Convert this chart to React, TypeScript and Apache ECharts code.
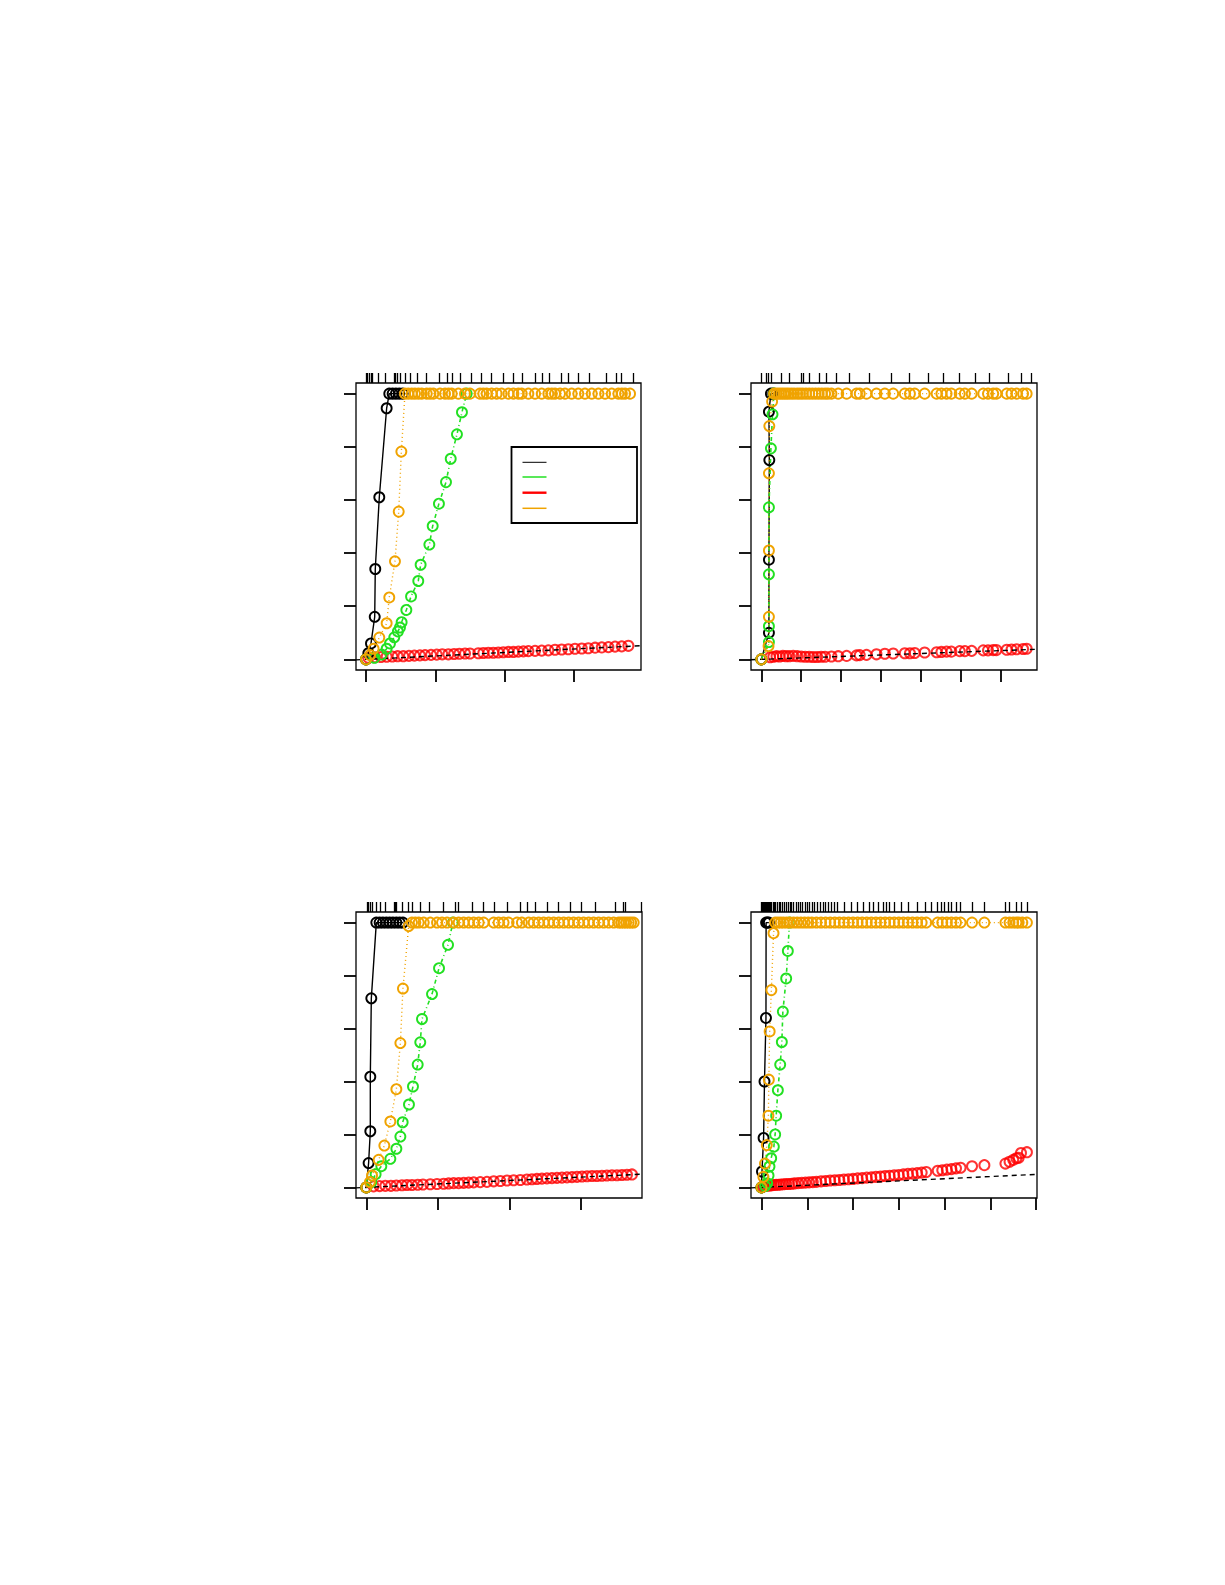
import { useEffect, useRef } from 'react';
import * as echarts from 'echarts';

const BLACK = '#000000';
const GREEN = '#22e022';
const RED = '#ff0000';
const ORANGE = '#f0a300';

const yTicks = [0, 0.2, 0.4, 0.6, 0.8, 1];
const p13XTicks = [0, 50, 100, 150];
const p24XTicks = [0, 1, 2, 3, 4, 5, 6];

// ---- panel 1 (top left)
const p1Rug = [0, 1.2, 2.4, 3.8, 4.6, 8.7, 14.2, 20.2, 21.4, 22.8, 24.5, 28.1, 32.2, 37.0, 43.5, 53.1, 58.9, 62.0, 68.3, 76.2, 82.9, 90.6, 99.3, 106.5, 113.0, 121.9, 127.4, 132.0, 140.9, 145.7, 152.7, 161.1, 173.6, 180.3, 184.4, 193.0];
const p1Black = [[0, 0], [1.7, 0.023], [3.6, 0.06], [6.3, 0.16], [6.7, 0.34], [9.6, 0.61], [14.9, 0.945], [16.8, 1], [19.2, 1], [21.6, 1], [24.0, 1], [26.4, 1]];
const p1Green = [[0, 0], [6.0, 0.006], [11.3, 0.018], [14.9, 0.04], [17.3, 0.06], [20.4, 0.083], [23.0, 0.105], [24.5, 0.12], [25.7, 0.14], [29.1, 0.186], [32.5, 0.237], [37.7, 0.295], [39.4, 0.356], [45.7, 0.432], [48.1, 0.502], [52.6, 0.586], [57.7, 0.667], [61.1, 0.755], [65.6, 0.847], [69.2, 0.93], [72.6, 1]];
const p1Red = [[0, 0], [1.7, 0.006], [6.5, 0.008], [10.8, 0.009], [14.9, 0.01], [19.0, 0.011], [22.8, 0.012], [26.9, 0.012], [31.0, 0.013], [34.9, 0.014], [38.9, 0.015], [42.6, 0.016], [46.9, 0.017], [51.0, 0.018], [55.0, 0.019], [59.4, 0.019], [63.5, 0.02], [67.3, 0.021], [71.4, 0.022], [75.0, 0.022], [81.0, 0.023], [84.6, 0.024], [88.2, 0.025], [91.8, 0.025], [95.4, 0.026], [99.0, 0.027], [102.7, 0.028], [106.3, 0.028], [109.9, 0.029], [113.5, 0.03], [117.1, 0.031], [121.9, 0.032], [126.7, 0.033], [131.5, 0.034], [136.3, 0.036], [141.1, 0.037], [145.9, 0.038], [150.7, 0.04], [155.6, 0.041], [160.3, 0.042], [165.2, 0.044], [170.0, 0.045], [174.8, 0.046], [179.6, 0.048], [184.4, 0.049], [189.2, 0.051]];
const p1Orange = [[0, 0], [2.9, 0.016], [5.5, 0.04], [9.6, 0.082], [14.9, 0.136], [16.8, 0.233], [20.9, 0.369], [23.6, 0.556], [25.5, 0.782], [28.1, 1], [30.5, 1], [33.0, 1], [35.3, 1], [37.8, 1], [40.2, 1], [43.8, 1], [46.2, 1], [48.6, 1], [53.4, 1], [57.0, 1], [59.5, 1], [61.8, 1], [66.6, 1], [71.4, 1], [75.0, 1], [82.2, 1], [84.6, 1], [87.0, 1], [90.6, 1], [94.2, 1], [97.8, 1], [102.7, 1], [106.3, 1], [109.9, 1], [112.3, 1], [117.1, 1], [121.9, 1], [126.7, 1], [131.5, 1], [134.0, 1], [136.3, 1], [139.9, 1], [143.5, 1], [148.3, 1], [153.1, 1], [157.9, 1], [162.8, 1], [167.6, 1], [172.4, 1], [177.2, 1], [182.0, 1], [184.5, 1], [186.8, 1], [190.4, 1]];
const p1RefSlope = 0.00026;

// ---- panel 2 (top right)
const p2Rug = [0, 0.12, 0.17, 0.25, 0.5, 0.71, 1.0, 1.05, 1.21, 1.45, 1.62, 1.88, 2.2, 2.7, 3.27, 3.71, 4.19, 4.56, 4.98, 5.38, 5.72, 6.2, 6.52, 6.77];
const p2Black = [[0, 0], [0.19, 0.1], [0.19, 0.375], [0.2, 0.75], [0.19, 0.932], [0.24, 1], [0.3, 1]];
const p2Green = [[0, 0], [0.19, 0.065], [0.19, 0.125], [0.19, 0.32], [0.19, 0.572], [0.24, 0.794], [0.28, 0.922], [0.32, 1]];
const p2Red = [[0, 0], [0.22, 0.008], [0.3, 0.01], [0.38, 0.012], [0.46, 0.011], [0.54, 0.013], [0.62, 0.012], [0.7, 0.012], [0.8, 0.013], [0.9, 0.012], [1.0, 0.011], [1.1, 0.01], [1.2, 0.01], [1.3, 0.009], [1.4, 0.009], [1.5, 0.01], [1.6, 0.01], [1.76, 0.011], [1.93, 0.012], [2.14, 0.013], [2.39, 0.015], [2.47, 0.016], [2.64, 0.017], [2.89, 0.019], [3.1, 0.021], [3.31, 0.022], [3.6, 0.023], [3.73, 0.023], [3.85, 0.024], [4.1, 0.026], [4.4, 0.027], [4.52, 0.028], [4.65, 0.029], [4.77, 0.029], [4.98, 0.031], [5.11, 0.031], [5.28, 0.032], [5.57, 0.034], [5.69, 0.034], [5.82, 0.035], [5.9, 0.035], [6.16, 0.036], [6.28, 0.037], [6.41, 0.038], [6.57, 0.039], [6.66, 0.04]];
const p2Orange = [[0, 0], [0.18, 0.05], [0.19, 0.16], [0.19, 0.41], [0.19, 0.7], [0.2, 0.878], [0.27, 0.97], [0.32, 1], [0.38, 1], [0.44, 1], [0.5, 1], [0.56, 1], [0.62, 1], [0.68, 1], [0.75, 1], [0.82, 1], [0.9, 1], [0.97, 1], [1.04, 1], [1.12, 1], [1.2, 1], [1.28, 1], [1.36, 1], [1.44, 1], [1.52, 1], [1.6, 1], [1.67, 1], [1.76, 1], [1.93, 1], [2.14, 1], [2.39, 1], [2.47, 1], [2.64, 1], [2.89, 1], [3.1, 1], [3.31, 1], [3.6, 1], [3.73, 1], [3.85, 1], [4.1, 1], [4.4, 1], [4.52, 1], [4.65, 1], [4.77, 1], [4.98, 1], [5.11, 1], [5.28, 1], [5.57, 1], [5.69, 1], [5.82, 1], [5.9, 1], [6.16, 1], [6.28, 1], [6.41, 1], [6.57, 1], [6.66, 1]];
const p2RefSlope = 0.0055;

// ---- panel 3 (bottom left)
const p3Rug = [0.5, 1.6, 2.8, 4.4, 7.0, 9.8, 13.3, 19.6, 20.3, 21.0, 24.9, 29.6, 31.9, 37.7, 44.2, 54.0, 62.2, 64.5, 73.8, 81.5, 89.4, 98.3, 107.6, 112.2, 118.1, 126.2, 134.4, 142.5, 150.0, 160.0, 173.9, 179.8, 180.9, 192.1];
const p3Black = [[0, 0], [1.6, 0.092], [2.8, 0.212], [2.8, 0.418], [3.5, 0.714], [7.0, 1], [9.3, 1], [11.6, 1], [14.0, 1], [16.3, 1], [18.6, 1], [21.0, 1], [23.3, 1], [25.6, 1]];
const p3Green = [[0, 0], [3.5, 0.02], [6.5, 0.05], [10.5, 0.08], [16.8, 0.108], [21.0, 0.146], [23.8, 0.192], [25.4, 0.246], [29.8, 0.313], [32.6, 0.381], [35.9, 0.464], [37.7, 0.548], [38.9, 0.636], [45.9, 0.73], [50.8, 0.828], [57.1, 0.916], [60.5, 1]];
const p3Red = [[0, 0], [5.1, 0.004], [9.3, 0.005], [13.3, 0.006], [17.2, 0.006], [21.0, 0.007], [24.9, 0.008], [28.4, 0.009], [31.9, 0.009], [35.9, 0.01], [39.6, 0.011], [44.7, 0.012], [49.4, 0.013], [54.0, 0.014], [57.5, 0.015], [61.0, 0.016], [64.5, 0.016], [68.0, 0.017], [71.5, 0.018], [75.0, 0.019], [79.6, 0.02], [84.3, 0.021], [89.0, 0.023], [93.6, 0.024], [98.3, 0.026], [102.9, 0.027], [107.6, 0.028], [112.2, 0.03], [115.7, 0.031], [119.2, 0.032], [122.7, 0.033], [126.2, 0.034], [129.7, 0.035], [133.2, 0.036], [136.7, 0.037], [140.2, 0.038], [143.7, 0.039], [147.2, 0.04], [150.7, 0.041], [154.2, 0.042], [157.7, 0.043], [161.1, 0.043], [164.6, 0.044], [168.1, 0.045], [171.6, 0.046], [175.1, 0.046], [178.6, 0.047], [182.1, 0.048], [185.6, 0.049]];
const p3Orange = [[0, 0], [2.5, 0.02], [4.0, 0.045], [8.6, 0.104], [12.6, 0.158], [16.8, 0.249], [21.0, 0.371], [23.8, 0.545], [25.6, 0.751], [29.6, 0.987], [31.9, 1], [34.2, 1], [36.6, 1], [40.1, 1], [44.7, 1], [49.4, 1], [52.9, 1], [56.4, 1], [61.0, 1], [64.5, 1], [68.0, 1], [71.5, 1], [75.0, 1], [78.5, 1], [82.0, 1], [89.0, 1], [92.4, 1], [95.9, 1], [99.4, 1], [105.3, 1], [108.7, 1], [113.4, 1], [116.9, 1], [120.4, 1], [123.9, 1], [127.4, 1], [130.9, 1], [134.4, 1], [137.9, 1], [141.3, 1], [144.8, 1], [148.3, 1], [151.8, 1], [155.3, 1], [158.8, 1], [162.3, 1], [165.8, 1], [169.3, 1], [172.8, 1], [176.3, 1], [178.0, 1], [179.8, 1], [181.5, 1], [183.3, 1], [185.0, 1], [186.8, 1]];
const p3RefSlope = 0.00026;

// ---- panel 4 (bottom right)
const p4Rug = [0, 0.02, 0.04, 0.06, 0.08, 0.1, 0.12, 0.14, 0.16, 0.19, 0.22, 0.25, 0.28, 0.31, 0.34, 0.38, 0.42, 0.46, 0.5, 0.54, 0.58, 0.62, 0.66, 0.7, 0.75, 0.8, 0.85, 0.9, 0.95, 1.0, 1.05, 1.1, 1.16, 1.22, 1.28, 1.34, 1.4, 1.46, 1.52, 1.6, 1.66, 1.8, 1.95, 2.1, 2.22, 2.35, 2.45, 2.55, 2.65, 2.72, 2.8, 2.9, 3.05, 3.2, 3.4, 3.58, 3.7, 3.85, 3.92, 4.0, 4.08, 4.15, 4.25, 4.35, 4.6, 4.87, 5.33, 5.42, 5.57, 5.68, 5.8];
const p4Black = [[0, 0], [0.01, 0.06], [0.045, 0.187], [0.065, 0.4], [0.097, 0.64], [0.1, 1], [0.13, 1], [0.16, 1]];
const p4Green = [[0, 0], [0.08, 0.005], [0.123, 0.016], [0.153, 0.045], [0.174, 0.079], [0.211, 0.11], [0.269, 0.154], [0.298, 0.2], [0.32, 0.271], [0.357, 0.367], [0.408, 0.464], [0.444, 0.549], [0.466, 0.664], [0.539, 0.789], [0.575, 0.893], [0.612, 1]];
const p4Red = [[0, 0], [0.03, 0.004], [0.06, 0.005], [0.1, 0.006], [0.14, 0.007], [0.18, 0.007], [0.22, 0.008], [0.27, 0.009], [0.32, 0.01], [0.37, 0.01], [0.42, 0.011], [0.48, 0.012], [0.54, 0.013], [0.6, 0.013], [0.66, 0.014], [0.72, 0.015], [0.8, 0.016], [0.88, 0.017], [0.96, 0.018], [1.04, 0.019], [1.12, 0.02], [1.2, 0.021], [1.3, 0.023], [1.4, 0.024], [1.5, 0.026], [1.6, 0.027], [1.7, 0.028], [1.8, 0.03], [1.9, 0.031], [2.0, 0.032], [2.1, 0.034], [2.2, 0.035], [2.3, 0.037], [2.4, 0.038], [2.5, 0.04], [2.6, 0.041], [2.7, 0.043], [2.8, 0.044], [2.9, 0.046], [3.0, 0.047], [3.1, 0.049], [3.2, 0.051], [3.3, 0.052], [3.4, 0.054], [3.5, 0.056], [3.6, 0.058], [3.85, 0.063], [3.95, 0.065], [4.05, 0.067], [4.15, 0.069], [4.25, 0.072], [4.35, 0.074], [4.6, 0.08], [4.87, 0.084], [5.33, 0.09], [5.42, 0.097], [5.5, 0.104], [5.57, 0.11], [5.62, 0.112], [5.67, 0.13], [5.8, 0.133]];
const p4Orange = [[0, 0], [0.04, 0.04], [0.075, 0.09], [0.115, 0.16], [0.15, 0.271], [0.16, 0.407], [0.178, 0.589], [0.215, 0.745], [0.262, 0.96], [0.3, 1], [0.36, 1], [0.42, 1], [0.48, 1], [0.55, 1], [0.62, 1], [0.7, 1], [0.78, 1], [0.86, 1], [0.94, 1], [1.02, 1], [1.1, 1], [1.2, 1], [1.3, 1], [1.4, 1], [1.5, 1], [1.6, 1], [1.7, 1], [1.8, 1], [1.9, 1], [2.0, 1], [2.1, 1], [2.2, 1], [2.3, 1], [2.4, 1], [2.5, 1], [2.6, 1], [2.7, 1], [2.8, 1], [2.9, 1], [3.0, 1], [3.1, 1], [3.2, 1], [3.3, 1], [3.4, 1], [3.5, 1], [3.6, 1], [3.85, 1], [3.95, 1], [4.05, 1], [4.15, 1], [4.25, 1], [4.35, 1], [4.6, 1], [4.87, 1], [5.33, 1], [5.42, 1], [5.5, 1], [5.57, 1], [5.62, 1], [5.7, 1], [5.8, 1]];
const p4RefSlope = 0.0082;

const panels = [
  { box: { left: 356, top: 383, width: 285, height: 287 }, xMin: -7.2, xMax: 198.3, xTicks: p13XTicks, rug: p1Rug, black: p1Black, green: p1Green, red: p1Red, orange: p1Orange, slope: p1RefSlope },
  { box: { left: 751, top: 383, width: 286, height: 287 }, xMin: -0.26, xMax: 6.92, xTicks: p24XTicks, rug: p2Rug, black: p2Black, green: p2Green, red: p2Red, orange: p2Orange, slope: p2RefSlope },
  { box: { left: 356, top: 912, width: 286, height: 286 }, xMin: -7.2, xMax: 192.6, xTicks: p13XTicks, rug: p3Rug, black: p3Black, green: p3Green, red: p3Red, orange: p3Orange, slope: p3RefSlope },
  { box: { left: 751, top: 912, width: 286, height: 286 }, xMin: -0.23, xMax: 6.02, xTicks: p24XTicks, rug: p4Rug, black: p4Black, green: p4Green, red: p4Red, orange: p4Orange, slope: p4RefSlope },
];

const ring = (color: string, w = 1.9) => ({ color: 'rgba(0,0,0,0)', borderColor: color, borderWidth: w });

const buildOption = (): echarts.EChartsOption => {
  const grid = panels.map((p) => ({
    ...p.box,
    show: true,
    borderColor: '#000',
    borderWidth: 1.3,
    backgroundColor: 'transparent',
  }));

  const xAxis = panels.flatMap((p, i) => [
    {
      gridIndex: i,
      type: 'value' as const,
      position: 'bottom' as const,
      min: p.xMin,
      max: p.xMax,
      axisLine: { show: false, onZero: false },
      axisTick: { show: true, length: 12, lineStyle: { color: '#000', width: 1.8 }, customValues: p.xTicks },
      axisLabel: { show: false },
      splitLine: { show: false },
    },
    {
      gridIndex: i,
      type: 'value' as const,
      position: 'top' as const,
      min: p.xMin,
      max: p.xMax,
      axisLine: { show: false, onZero: false },
      axisTick: { show: true, length: 10, lineStyle: { color: '#000', width: 1.3 }, customValues: p.rug },
      axisLabel: { show: false },
      splitLine: { show: false },
    },
  ]);

  const yAxis = panels.map((_, i) => ({
    gridIndex: i,
    type: 'value' as const,
    min: -0.04,
    max: 1.04,
    axisLine: { show: false, onZero: false },
    axisTick: { show: true, length: 12, lineStyle: { color: '#000', width: 1.8 }, customValues: yTicks },
    axisLabel: { show: false },
    splitLine: { show: false },
  }));

  const series = panels.flatMap((p, i) => {
    const common = { xAxisIndex: 2 * i, yAxisIndex: i, silent: true, symbol: 'circle', symbolSize: 10, showAllSymbol: true };
    return [
      { ...common, type: 'line', data: p.black, lineStyle: { color: BLACK, width: 1.4 }, itemStyle: ring(BLACK) },
      { ...common, type: 'line', data: p.green, lineStyle: { color: GREEN, width: 1.6, type: [4, 3, 1, 3] }, itemStyle: ring(GREEN) },
      { ...common, type: 'scatter', data: p.red, itemStyle: ring(RED, 2) },
      {
        xAxisIndex: 2 * i,
        yAxisIndex: i,
        silent: true,
        type: 'line',
        symbol: 'none',
        data: [
          [p.xMin, p.slope * p.xMin],
          [p.xMax, p.slope * p.xMax],
        ],
        lineStyle: { color: BLACK, width: 1.4, type: [5, 4] },
      },
      { ...common, type: 'line', data: p.orange, lineStyle: { color: ORANGE, width: 1.4, type: [1, 3] }, itemStyle: ring(ORANGE) },
    ];
  });

  // legend of panel 1 (no labels)
  const legendY = [462.3, 477, 492.7, 508.3];
  const legendColors = [BLACK, GREEN, RED, ORANGE];
  const legendWidths = [1, 1.5, 2.4, 1.5];
  const graphic = [
    {
      type: 'rect',
      z: 50,
      shape: { x: 511.5, y: 447, width: 125.5, height: 76 },
      style: { fill: '#fff', stroke: '#000', lineWidth: 1.8 },
    },
    ...legendY.map((y, k) => ({
      type: 'line',
      z: 51,
      shape: { x1: 522.5, y1: y, x2: 546.5, y2: y },
      style: { stroke: legendColors[k], lineWidth: legendWidths[k] },
    })),
  ];

  return {
    animation: false,
    backgroundColor: '#ffffff',
    grid,
    xAxis,
    yAxis,
    series,
    graphic,
  } as echarts.EChartsOption;
};

const App = () => {
  const ref = useRef<HTMLDivElement>(null);

  useEffect(() => {
    if (!ref.current) return;
    const chart = echarts.init(ref.current, undefined, { renderer: 'svg' });
    chart.setOption(buildOption());
    return () => {
      chart.dispose();
    };
  }, []);

  return (
    <div
      ref={ref}
      style={{ position: 'absolute', left: 0, top: 0, width: 1225, height: 1585 }}
    />
  );
};

export default App;
